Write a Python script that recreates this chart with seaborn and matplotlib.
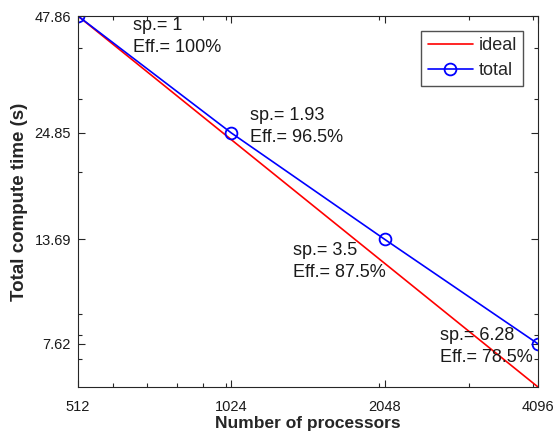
import matplotlib
matplotlib.use("Agg")
import matplotlib.pyplot as plt
import matplotlib.ticker as mticker
import seaborn as sns
import pandas as pd

# ---- data ----
processors = [512, 1024, 2048, 4096]
total_time = [47.86, 24.85, 13.69, 7.62]
ideal_time = [47.86, 23.93, 11.965, 5.9825]
speedup_labels = ["1", "1.93", "3.5", "6.28"]
eff_labels = ["100%", "96.5%", "87.5%", "78.5%"]
ytick_labels = ["7.62", "13.69", "24.85", "47.86"]
xtick_labels = ["512", "1024", "2048", "4096"]

sns.set_style("ticks")
plt.rcParams['font.family'] = ['Liberation Sans', 'DejaVu Sans']

df_ideal = pd.DataFrame({"procs": processors, "time": ideal_time})
df_total = pd.DataFrame({"procs": processors, "time": total_time})

fig = plt.figure(figsize=(5.55, 4.33), dpi=100)
ax = fig.add_axes([0.1405, 0.1062, 0.8289, 0.8568])

sns.lineplot(data=df_ideal, x="procs", y="time", ax=ax, color="#ff0000",
             linewidth=1.2, label="ideal")
sns.lineplot(data=df_total, x="procs", y="time", ax=ax, color="#0000ff",
             linewidth=1.2, marker="o", markersize=8.5, markerfacecolor="none",
             markeredgecolor="#0000ff", markeredgewidth=1.3, label="total")

ax.set_xscale("log", base=2)
ax.set_yscale("log")
ax.set_xlim(processors[0], processors[-1])
ax.set_ylim(ideal_time[-1], ideal_time[0])

ax.xaxis.set_major_locator(mticker.FixedLocator(processors))
ax.xaxis.set_major_formatter(mticker.FixedFormatter(xtick_labels))
ax.xaxis.set_minor_locator(mticker.FixedLocator([600, 700, 800, 900, 1000, 2000, 3000, 4000]))
ax.xaxis.set_minor_formatter(mticker.NullFormatter())
ax.yaxis.set_major_locator(mticker.FixedLocator(total_time[::-1]))
ax.yaxis.set_major_formatter(mticker.FixedFormatter(ytick_labels))
ax.yaxis.set_minor_locator(mticker.FixedLocator([7, 8, 9, 20, 30, 40]))
ax.yaxis.set_minor_formatter(mticker.NullFormatter())

ax.tick_params(which="both", direction="in", top=True, right=True,
               colors="#262626", width=0.8)
ax.tick_params(which="major", length=5, labelsize=10.5, labelcolor="#1a1a1a")
ax.tick_params(axis="x", which="major", pad=9)
ax.tick_params(axis="y", which="major", pad=5)
ax.tick_params(which="minor", length=3)
for s in ax.spines.values():
    s.set_visible(True)
    s.set_color("#262626")
    s.set_linewidth(0.8)

ax.set_xlabel("Number of processors", fontsize=12.5, fontweight="bold", labelpad=2)
ax.set_ylabel("Total compute time (s)", fontsize=13.5, fontweight="bold", labelpad=5)

# annotations (text offset from each point, in points)
offsets = [(39.6, -15), (13.7, 4.7), (-66, -16), (-70.6, -2)]
for p, t, sp, ef, off in zip(processors, total_time, speedup_labels, eff_labels, offsets):
    ax.annotate(f"sp.= {sp}\nEff.= {ef}", xy=(p, t), xytext=off,
                textcoords="offset points", fontsize=13, va="center", ha="left",
                linespacing=1.4, color="#1a1a1a")

leg = ax.legend(loc="upper right", fontsize=13, frameon=True, fancybox=False,
                edgecolor="#262626", borderaxespad=0.83, handlelength=2.5,
                handletextpad=0.3, borderpad=0.35, labelspacing=0.45)
leg.get_frame().set_linewidth(1.0)

fig.savefig("out.png", dpi=100)
